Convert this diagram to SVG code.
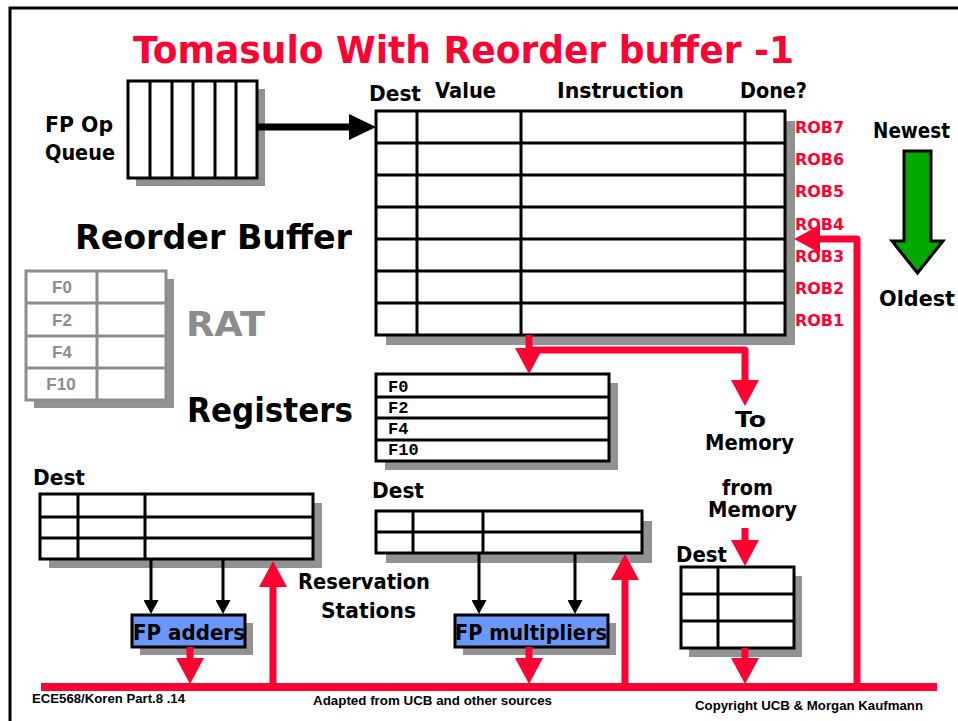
<svg xmlns="http://www.w3.org/2000/svg" width="958" height="721" viewBox="0 0 958 721">
  <style>
    .frame { fill: none; stroke: #000; stroke-width: 3; }
    .cell { fill: #fff; stroke: #000; stroke-width: 3; }
    .grid { stroke: #000; stroke-width: 3; fill: none; }
    .shadow { fill: #929292; }
    .ratcell { fill: #fff; stroke: #8c8c8c; stroke-width: 3; }
    .ratgrid { stroke: #8c8c8c; stroke-width: 3; fill: none; }
    .unit { fill: #6b97f7; stroke: #000; stroke-width: 3; }
    .hand { font-family: "DejaVu Sans", "Noto Sans", sans-serif; font-weight: bold; fill: #000; }
    .title { font-size: 37px; fill: #ff0033; }
    .lbl { font-size: 21px; }
    .big { font-size: 34px; }
    .rob { font-family: "DejaVu Sans", "Noto Sans", sans-serif; font-weight: bold; font-size: 16px; fill: #ff0033; }
    .ratt { font-family: "Liberation Sans", Arial, sans-serif; font-weight: bold; font-size: 17px; fill: #8c8c8c; text-anchor: middle; }
    .mono { font-family: "Liberation Mono", "Courier New", monospace; font-weight: bold; font-size: 17px; fill: #000; }
    .foot { font-family: "Liberation Sans", Arial, sans-serif; font-weight: bold; font-size: 12.5px; fill: #000; }
    .bus { fill: none; stroke: #ff0033; stroke-width: 8; stroke-linejoin: round; }
    .red { fill: none; stroke: #ff0033; stroke-width: 7; stroke-linejoin: round; marker-end: url(#redHead); }
    .blk { fill: none; stroke: #000; stroke-width: 3; marker-end: url(#blkHead); }
  </style>
  <defs>
    <marker id="redHead" markerUnits="userSpaceOnUse" viewBox="0 0 26 28" markerWidth="26" markerHeight="28" refX="0" refY="14" orient="auto">
      <path d="M0,0 L26,14 L0,28 z" fill="#ff0033"/>
    </marker>
    <marker id="blkHead" markerUnits="userSpaceOnUse" viewBox="0 0 14 15" markerWidth="14" markerHeight="15" refX="0" refY="7.5" orient="auto">
      <path d="M0,0 L14,7.5 L0,15 z" fill="#000"/>
    </marker>
    <marker id="bigHead" markerUnits="userSpaceOnUse" viewBox="0 0 27 26" markerWidth="27" markerHeight="26" refX="0" refY="13" orient="auto">
      <path d="M0,0 L27,13 L0,26 z" fill="#000"/>
    </marker>
  </defs>

  <rect width="958" height="721" fill="#fff"/>
  <!-- slide frame -->
  <rect class="frame" x="10" y="8" width="970" height="740"/>

  <text class="hand title" x="133" y="63" textLength="661" lengthAdjust="spacingAndGlyphs">Tomasulo With Reorder buffer -1</text>

  <!-- instruction queue -->
  <g id="fp-op-queue">
    <rect class="shadow" x="136" y="89" width="129" height="97"/>
    <rect class="cell" x="128" y="81" width="129" height="97"/>
    <path class="grid" d="M150,81V178M172,81V178M193,81V178M215,81V178M236,81V178"/>
    <text class="hand lbl" x="45" y="132" textLength="68" lengthAdjust="spacingAndGlyphs">FP Op</text>
    <text class="hand lbl" x="45" y="160" textLength="70" lengthAdjust="spacingAndGlyphs">Queue</text>
  </g>

  <!-- reorder buffer -->
  <g id="reorder-buffer">
    <rect class="shadow" x="386" y="121" width="409" height="224"/>
    <rect class="cell" x="376" y="111" width="409" height="224"/>
    <path class="grid" d="M376,143H785M376,175H785M376,207H785M376,239H785M376,271H785M376,303H785M417,111V335M521,111V335M745,111V335"/>
    <text class="hand lbl" x="369" y="101" textLength="52" lengthAdjust="spacingAndGlyphs">Dest</text>
    <text class="hand lbl" x="435" y="98" textLength="61" lengthAdjust="spacingAndGlyphs">Value</text>
    <text class="hand lbl" x="557" y="98" textLength="127" lengthAdjust="spacingAndGlyphs">Instruction</text>
    <text class="hand lbl" x="740" y="98" textLength="67" lengthAdjust="spacingAndGlyphs">Done?</text>
    <text class="rob" x="795" y="133" textLength="49" lengthAdjust="spacingAndGlyphs">ROB7</text>
    <text class="rob" x="795" y="165" textLength="49" lengthAdjust="spacingAndGlyphs">ROB6</text>
    <text class="rob" x="795" y="197" textLength="49" lengthAdjust="spacingAndGlyphs">ROB5</text>
    <text class="rob" x="795" y="230" textLength="49" lengthAdjust="spacingAndGlyphs">ROB4</text>
    <text class="rob" x="795" y="262" textLength="49" lengthAdjust="spacingAndGlyphs">ROB3</text>
    <text class="rob" x="795" y="294" textLength="49" lengthAdjust="spacingAndGlyphs">ROB2</text>
    <text class="rob" x="795" y="326" textLength="49" lengthAdjust="spacingAndGlyphs">ROB1</text>
    <text class="hand big" x="75" y="249" textLength="277" lengthAdjust="spacingAndGlyphs">Reorder Buffer</text>
  </g>

  <!-- age indicator -->
  <g id="age-arrow">
    <text class="hand lbl" x="873" y="138" textLength="77" lengthAdjust="spacingAndGlyphs">Newest</text>
    <path d="M904,151H931V241H943L917.5,273L892,241H904Z" fill="#00a800" stroke="#000" stroke-width="3" stroke-linejoin="miter"/>
    <text class="hand lbl" x="879" y="306" textLength="76" lengthAdjust="spacingAndGlyphs">Oldest</text>
  </g>

  <!-- register alias table -->
  <g id="rat">
    <rect class="shadow" x="34" y="279" width="140" height="129"/>
    <rect class="ratcell" x="26" y="271" width="140" height="129"/>
    <path class="ratgrid" d="M26,303H166M26,336H166M26,368H166M97,271V400"/>
    <text class="ratt" x="62" y="293">F0</text>
    <text class="ratt" x="62" y="326">F2</text>
    <text class="ratt" x="62" y="358">F4</text>
    <text class="ratt" x="61" y="390">F10</text>
    <text class="hand big" x="186" y="336" textLength="79" lengthAdjust="spacingAndGlyphs" style="fill:#8c8c8c">RAT</text>
  </g>

  <!-- register file -->
  <g id="registers">
    <rect class="shadow" x="385" y="383" width="233" height="87"/>
    <rect class="cell" x="376" y="374" width="233" height="87"/>
    <path class="grid" d="M376,397H609M376,418H609M376,440H609"/>
    <text class="mono" x="388" y="392">F0</text>
    <text class="mono" x="388" y="413">F2</text>
    <text class="mono" x="388" y="434">F4</text>
    <text class="mono" x="388" y="455">F10</text>
    <text class="hand big" x="187" y="422" textLength="166" lengthAdjust="spacingAndGlyphs">Registers</text>
  </g>

  <!-- memory labels -->
  <g id="memory">
    <text class="hand lbl" x="735" y="427" textLength="31" lengthAdjust="spacingAndGlyphs">To</text>
    <text class="hand lbl" x="705" y="450" textLength="89" lengthAdjust="spacingAndGlyphs">Memory</text>
    <text class="hand lbl" x="722" y="495" textLength="51" lengthAdjust="spacingAndGlyphs">from</text>
    <text class="hand lbl" x="708" y="517" textLength="89" lengthAdjust="spacingAndGlyphs">Memory</text>
  </g>

  <!-- adder reservation stations -->
  <g id="rs-adders">
    <rect class="shadow" x="49" y="503" width="273" height="65"/>
    <rect class="cell" x="40" y="494" width="273" height="65"/>
    <path class="grid" d="M40,517H313M40,538H313M78,494V559M145,494V559"/>
    <text class="hand lbl" x="33" y="485" textLength="52" lengthAdjust="spacingAndGlyphs">Dest</text>
  </g>

  <g id="fp-adders">
    <rect class="shadow" x="140" y="623" width="113" height="32"/>
    <rect class="unit" x="132" y="615" width="113" height="32"/>
    <text class="hand lbl" x="133" y="640" textLength="112" lengthAdjust="spacingAndGlyphs">FP adders</text>
  </g>

  <g id="rs-label">
    <text class="hand lbl" x="298" y="589" textLength="132" lengthAdjust="spacingAndGlyphs">Reservation</text>
    <text class="hand lbl" x="321" y="618" textLength="95" lengthAdjust="spacingAndGlyphs">Stations</text>
  </g>

  <!-- multiplier reservation stations -->
  <g id="rs-multipliers">
    <rect class="shadow" x="386" y="521" width="266" height="42"/>
    <rect class="cell" x="376" y="511" width="266" height="42"/>
    <path class="grid" d="M376,532H642M413,511V553M483,511V553"/>
    <text class="hand lbl" x="372" y="498" textLength="52" lengthAdjust="spacingAndGlyphs">Dest</text>
  </g>

  <g id="fp-multipliers">
    <rect class="shadow" x="463" y="623" width="153" height="32"/>
    <rect class="unit" x="455" y="615" width="153" height="32"/>
    <text class="hand lbl" x="455" y="640" textLength="152" lengthAdjust="spacingAndGlyphs">FP multipliers</text>
  </g>

  <!-- load buffers -->
  <g id="load-buffers">
    <rect class="shadow" x="689" y="576" width="113" height="81"/>
    <rect class="cell" x="681" y="567" width="113" height="81"/>
    <path class="grid" d="M681,594H794M681,621H794M718,567V648"/>
    <text class="hand lbl" x="676" y="562" textLength="51" lengthAdjust="spacingAndGlyphs">Dest</text>
  </g>

  <!-- connectors -->
  <g id="connectors">
    <path d="M257,127H349" fill="none" stroke="#000" stroke-width="7" marker-end="url(#bigHead)"/>
    <path class="bus" d="M41,687H937"/>
    <path class="red" d="M529,335V348"/>
    <path class="red" d="M529,350H745V380"/>
    <path class="red" d="M857,687V239H820"/>
    <path class="red" d="M190,647V658"/>
    <path class="red" d="M273,687V587"/>
    <path class="red" d="M529,647V658"/>
    <path class="red" d="M625,687V580"/>
    <path class="red" d="M745,528V540"/>
    <path class="red" d="M745,648V658"/>
    <path class="blk" d="M151,559V600"/>
    <path class="blk" d="M223,559V600"/>
    <path class="blk" d="M479,553V600"/>
    <path class="blk" d="M575,553V600"/>
  </g>

  <!-- footer -->
  <g id="footer">
    <text class="foot" x="32" y="703" textLength="153" lengthAdjust="spacingAndGlyphs">ECE568/Koren Part.8 .14</text>
    <text class="foot" x="313" y="705" textLength="239" lengthAdjust="spacingAndGlyphs">Adapted from UCB and other sources</text>
    <text class="foot" x="695" y="710" textLength="228" lengthAdjust="spacingAndGlyphs">Copyright UCB &amp; Morgan Kaufmann</text>
  </g>
</svg>
